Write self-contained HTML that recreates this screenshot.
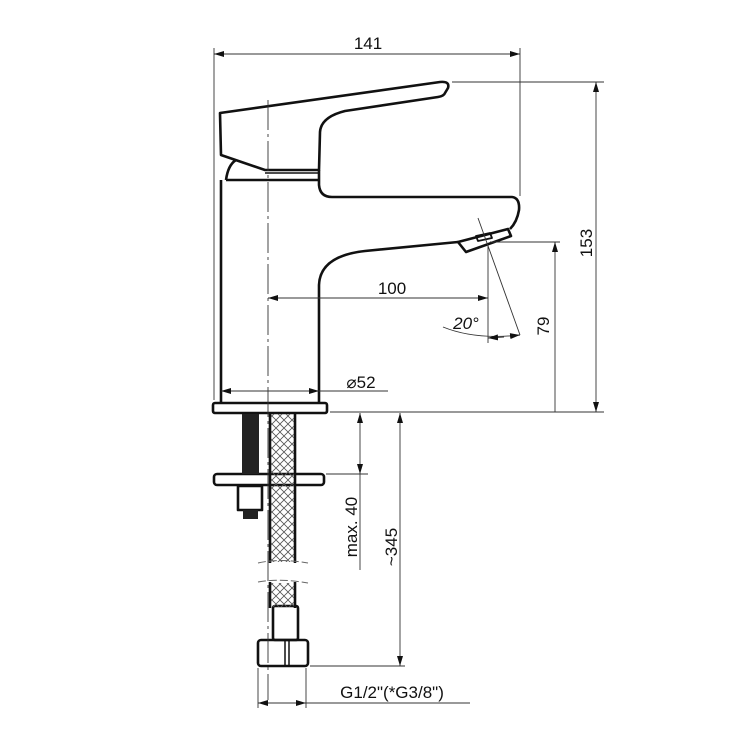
<!DOCTYPE html>
<html><head><meta charset="utf-8"><style>html,body{margin:0;padding:0;background:#fff}svg{display:block}</style></head>
<body>
<svg width="740" height="740" viewBox="0 0 740 740" xmlns="http://www.w3.org/2000/svg" font-family="'Liberation Sans', sans-serif">
<defs>
<marker id="a" viewBox="0 0 10 6" refX="10" refY="3" markerWidth="10" markerHeight="6" orient="auto-start-reverse" markerUnits="userSpaceOnUse"><path d="M0,0 L10,3 L0,6 z" fill="#111"/></marker>
<pattern id="x" width="8" height="8" patternUnits="userSpaceOnUse"><path d="M0,0 L8,8 M8,0 L0,8" stroke="#555" stroke-width="0.8"/></pattern>
</defs>
<g fill="none" stroke="#111" stroke-width="2.6" stroke-linejoin="round">
<path d="M220,113 L440,82 Q450,81 448,88 L445,93 Q444,96 438,97 L345,111 Q321,117 320,132 L319,170 L265,170 L221,155 Z"/>
<path d="M226,180 Q228,165 236,160"/>
<line x1="226" y1="180" x2="319" y2="180"/>
<line x1="265" y1="173" x2="318" y2="173" stroke-width="1.5"/>
<path d="M221,180 L221,403 M319,170 L319,185 Q320,197 332,197 L512,197 Q520,198 519,210 Q517,222 510,229"/>
<path d="M458,242 L365,251 Q320,256 319,285 L319,403"/>
<path d="M458,242 L508,229 L511,236 L466,252 Z"/>
<path d="M476,236 L490,233 L492,238 L478,241 Z" stroke-width="1.8"/>
<rect x="213" y="403" width="114" height="10" rx="2"/>
<rect x="214" y="474" width="110" height="11" rx="3"/>
<path d="M270,413 L270,563 M295,413 L295,563 M270,582 L270,608 M295,582 L295,608"/>
<rect x="273" y="606" width="25" height="34" rx="2"/>
<rect x="258" y="640" width="50" height="26" rx="3"/>
<line x1="285" y1="640" x2="285" y2="666" stroke-width="1.5"/>
<line x1="289" y1="640" x2="289" y2="666" stroke-width="1.5"/>
<rect x="238" y="486" width="24" height="24"/>
</g>
<rect x="271" y="414" width="23" height="148" fill="url(#x)"/>
<rect x="271" y="583" width="23" height="24" fill="url(#x)"/>
<rect x="242" y="414" width="17" height="60" fill="#222"/>
<rect x="243" y="510" width="15" height="9" fill="#222"/>
<path d="M258,563 Q280,558 308,563 M258,582 Q280,578 308,583" stroke="#666" stroke-width="1" fill="none" stroke-dasharray="8,3"/>
<g stroke="#333" stroke-width="0.9" fill="none">
<line x1="214" y1="48" x2="214" y2="400"/>
<line x1="520" y1="48" x2="520" y2="196"/>
<line x1="268" y1="100" x2="268" y2="700" stroke-dasharray="30,4,3,4"/>
<line x1="214" y1="54" x2="520" y2="54" marker-start="url(#a)" marker-end="url(#a)"/>
<line x1="452" y1="82" x2="604" y2="82"/>
<line x1="330" y1="412" x2="604" y2="412"/>
<line x1="596" y1="82" x2="596" y2="412" marker-start="url(#a)" marker-end="url(#a)"/>
<line x1="490" y1="242" x2="560" y2="242"/>
<line x1="555" y1="242" x2="555" y2="412" marker-start="url(#a)"/>
<line x1="268" y1="298" x2="488" y2="298" marker-start="url(#a)" marker-end="url(#a)"/>
<line x1="488" y1="245" x2="488" y2="343"/>
<line x1="478" y1="218" x2="520" y2="335"/>
<path d="M443,327 Q475,340 520,335" marker-end="url(#a)"/>
<line x1="488" y1="338" x2="504" y2="337" marker-start="url(#a)"/>
<line x1="221" y1="391" x2="388" y2="391"/>
<line x1="221" y1="391" x2="240" y2="391" marker-start="url(#a)"/>
<line x1="300" y1="391" x2="319" y2="391" marker-end="url(#a)"/>
<line x1="326" y1="474" x2="368" y2="474"/>
<line x1="360" y1="413" x2="360" y2="474" marker-start="url(#a)" marker-end="url(#a)"/>
<line x1="360" y1="474" x2="360" y2="570"/>
<line x1="310" y1="666" x2="405" y2="666"/>
<line x1="400" y1="413" x2="400" y2="666" marker-start="url(#a)" marker-end="url(#a)"/>
<line x1="258" y1="668" x2="258" y2="708"/>
<line x1="306" y1="668" x2="306" y2="708"/>
<line x1="258" y1="703" x2="306" y2="703" marker-start="url(#a)" marker-end="url(#a)"/>
<line x1="306" y1="703" x2="470" y2="703"/>
</g>
<g fill="#111" font-size="17">
<text x="368" y="49" text-anchor="middle">141</text>
<text x="392" y="294" text-anchor="middle">100</text>
<text x="466" y="329" text-anchor="middle" font-style="italic">20°</text>
<text x="361" y="388" text-anchor="middle">⌀52</text>
<text x="392" y="698" text-anchor="middle">G1/2"(*G3/8")</text>
<text transform="translate(592,243) rotate(-90)" text-anchor="middle">153</text>
<text transform="translate(549,326) rotate(-90)" text-anchor="middle">79</text>
<text transform="translate(357,527) rotate(-90)" text-anchor="middle">max. 40</text>
<text transform="translate(397,547) rotate(-90)" text-anchor="middle">~345</text>
</g>
</svg>
</body></html>
